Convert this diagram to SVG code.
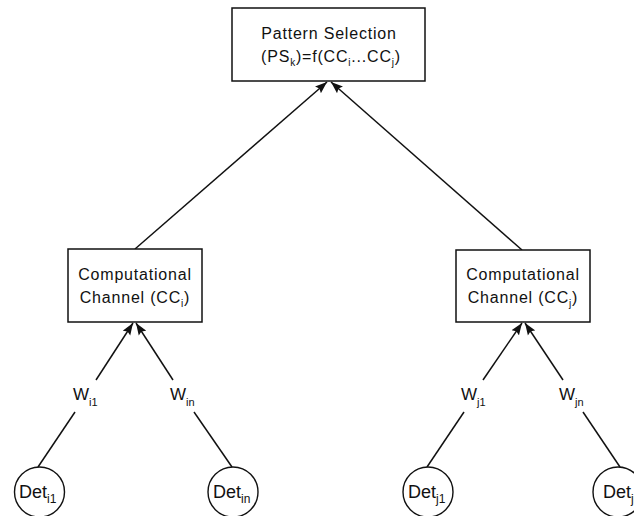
<svg xmlns="http://www.w3.org/2000/svg" width="634" height="516" viewBox="0 0 634 516">
<style>
.box{fill:#fff;stroke:#111;stroke-width:1.5}
.circ{fill:#fff;stroke:#111;stroke-width:1.4}
.lbl{font-family:"Liberation Sans",Arial,sans-serif;font-size:16px;letter-spacing:0.8px;fill:#111}
.det{font-family:"Liberation Sans",Arial,sans-serif;font-size:18px;fill:#111}
.w{font-family:"Liberation Sans",Arial,sans-serif;font-size:17px;fill:#111}
.con line{stroke:#111;stroke-width:1.5}
</style>
<defs>
<marker id="arr" viewBox="0 0 12 10" refX="12" refY="5" markerWidth="12" markerHeight="10" markerUnits="userSpaceOnUse" orient="auto">
<path d="M0,0.5 L12,5 L0,9.5 L2,5 Z" fill="#111"/>
</marker>
</defs>
<rect width="634" height="516" fill="#fff"/>
<g id="connectors" class="con">
<line x1="135" y1="249" x2="327" y2="82" marker-end="url(#arr)"/>
<line x1="522" y1="250" x2="331" y2="82" marker-end="url(#arr)"/>
<line x1="96" y1="380" x2="133" y2="323" marker-end="url(#arr)"/>
<line x1="75" y1="412" x2="38" y2="467"/>
<line x1="173" y1="380" x2="136" y2="323" marker-end="url(#arr)"/>
<line x1="194" y1="412" x2="232" y2="467"/>
<line x1="483" y1="380" x2="522" y2="323" marker-end="url(#arr)"/>
<line x1="464" y1="412" x2="427" y2="467"/>
<line x1="563" y1="380" x2="525" y2="323" marker-end="url(#arr)"/>
<line x1="583" y1="412" x2="620" y2="467"/>
</g>
<g id="ps">
<rect class="box" x="232" y="8" width="193" height="73"/>
<text class="lbl" x="329" y="39" text-anchor="middle">Pattern Selection</text>
<text class="lbl" x="331" y="62" text-anchor="middle">(PS<tspan font-size="10" dy="4">k</tspan><tspan dy="-4">)=f(CC</tspan><tspan font-size="10" dy="4">i</tspan><tspan dy="-4">...CC</tspan><tspan font-size="10" dy="4">j</tspan><tspan dy="-4">)</tspan></text>
</g>
<g id="cci">
<rect class="box" x="68" y="249" width="134" height="73"/>
<text class="lbl" x="135" y="280" text-anchor="middle">Computational</text>
<text class="lbl" x="135" y="303" text-anchor="middle">Channel (CC<tspan font-size="10" dy="4">i</tspan><tspan dy="-4">)</tspan></text>
</g>
<g id="ccj">
<rect class="box" x="456" y="250" width="134" height="72"/>
<text class="lbl" x="523" y="280" text-anchor="middle">Computational</text>
<text class="lbl" x="523" y="303" text-anchor="middle">Channel (CC<tspan font-size="10" dy="4">j</tspan><tspan dy="-4">)</tspan></text>
</g>
<g id="wi1"><text class="w" x="73" y="400">W<tspan font-size="11" dy="6">i1</tspan></text></g>
<g id="win"><text class="w" x="170" y="400">W<tspan font-size="11" dy="6">in</tspan></text></g>
<g id="wj1"><text class="w" x="461" y="400">W<tspan font-size="11" dy="6">j1</tspan></text></g>
<g id="wjn"><text class="w" x="559" y="400">W<tspan font-size="11" dy="6">jn</tspan></text></g>
<g id="deti1">
<circle class="circ" cx="39.5" cy="492" r="25"/>
<text class="det" x="19" y="498">Det<tspan font-size="12" dy="5">i1</tspan></text>
</g>
<g id="detin">
<circle class="circ" cx="233" cy="492" r="25"/>
<text class="det" x="213" y="498">Det<tspan font-size="12" dy="5">in</tspan></text>
</g>
<g id="detj1">
<circle class="circ" cx="428" cy="492" r="25"/>
<text class="det" x="408" y="498">Det<tspan font-size="12" dy="5">j1</tspan></text>
</g>
<g id="detjn">
<circle class="circ" cx="618" cy="492" r="25"/>
<text class="det" x="603" y="498">Det<tspan font-size="12" dy="5">jn</tspan></text>
</g>
</svg>
